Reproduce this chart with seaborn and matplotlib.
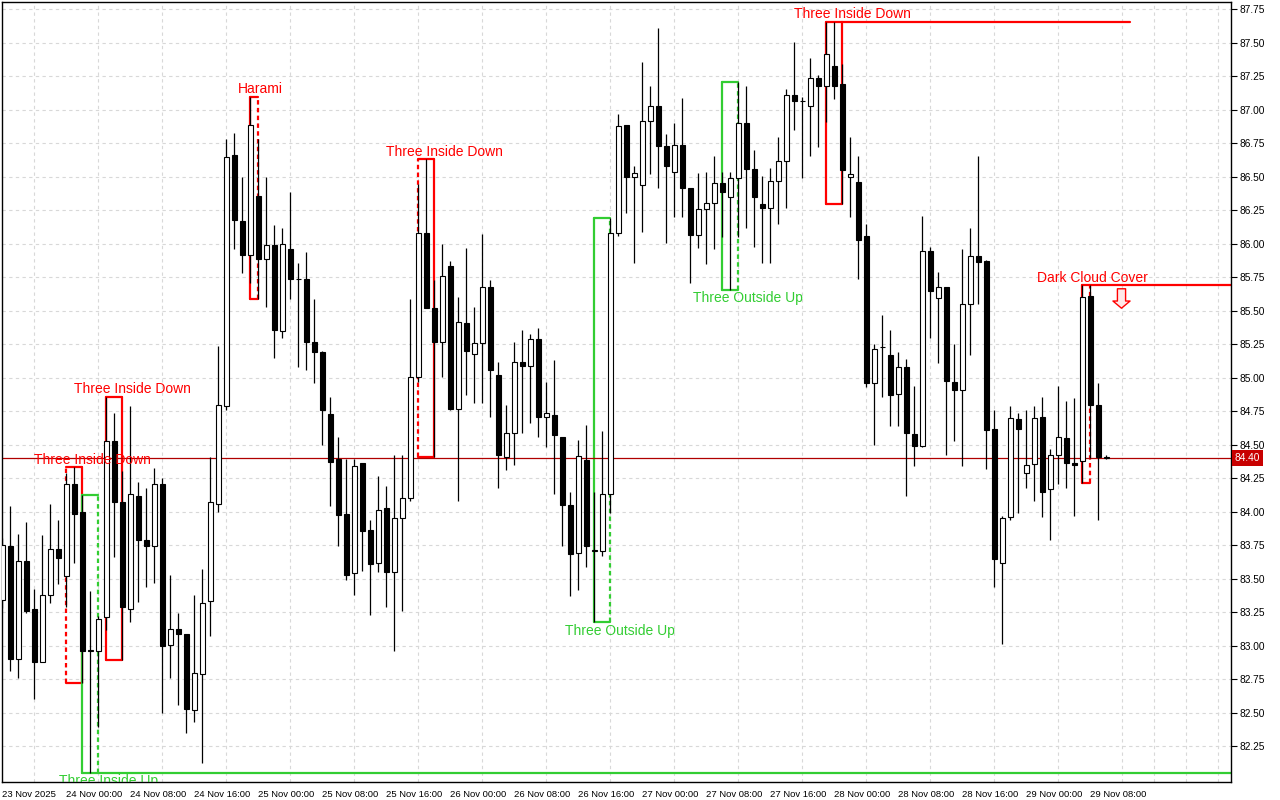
import numpy as np
import pandas as pd
import seaborn as sns
import matplotlib.pyplot as plt
import matplotlib.transforms as mtransforms
from matplotlib.path import Path

# Hourly bars, first bar = 23 Nov 16:00
opens = [83.34, 83.74, 82.90, 83.63, 83.275, 82.88, 83.38, 83.72, 83.52, 84.205,
         84.00, 82.96, 82.96, 83.21, 84.53, 84.07, 83.27, 84.12, 83.79, 83.74,
         84.21, 83.005, 83.125, 83.09, 82.52, 82.79, 83.33, 84.055, 84.79, 86.66,
         86.17, 85.92, 86.36, 85.885, 85.99, 85.35, 85.96, 85.735, 85.735, 85.27,
         85.195, 84.73, 84.39, 83.98, 83.54, 84.36, 83.86, 83.62, 84.025, 83.55,
         83.95, 84.10, 85.005, 86.08, 85.52, 85.265, 85.835, 84.77, 85.41, 85.18,
         85.26, 85.675, 85.02, 84.41, 84.59, 85.12, 85.085, 85.29, 84.71, 84.72,
         84.56, 84.05, 83.69, 84.385, 83.71, 83.71, 84.13, 86.08, 86.885, 86.50,
         86.44, 86.92, 87.03, 86.73, 86.535, 86.735, 86.415, 86.066, 86.26, 86.305,
         86.455, 86.35, 86.49, 86.90, 86.56, 86.30, 86.27, 86.47, 86.615, 87.115,
         87.066, 87.026, 87.24, 87.18, 87.33, 87.19, 86.50, 86.46, 86.056, 84.96,
         85.23, 85.17, 84.88, 85.08, 84.58, 84.49, 85.95, 85.595, 85.68, 84.97,
         84.91, 85.55, 85.91, 85.87, 84.617, 83.62, 83.96, 84.69, 84.288, 84.355,
         84.71, 84.17, 84.42, 84.55, 84.36, 84.38, 85.61, 84.80, 84.40]
highs = [83.80, 84.04, 83.83, 83.92, 83.42, 83.825, 84.06, 83.94, 84.29, 84.33,
         84.125, 83.41, 83.22, 84.86, 84.74, 84.30, 84.79, 84.22, 84.18, 84.325,
         84.25, 83.525, 83.24, 83.09, 83.375, 83.57, 84.41, 85.24, 86.78, 86.83,
         86.50, 87.10, 86.78, 86.50, 86.14, 86.12, 86.39, 85.855, 85.94, 85.585,
         85.20, 84.86, 84.56, 84.39, 84.395, 84.36, 83.94, 84.27, 84.19, 84.425,
         84.42, 85.59, 86.45, 86.63, 85.73, 86.00, 85.87, 85.60, 85.97, 85.53,
         86.07, 85.73, 85.12, 84.80, 85.27, 85.36, 85.33, 85.375, 84.97, 85.13,
         84.56, 84.15, 84.535, 84.65, 84.15, 84.60, 86.19, 86.97, 86.885, 86.585,
         87.36, 87.18, 87.615, 86.82, 86.90, 87.09, 86.415, 86.53, 86.54, 86.655,
         86.54, 86.535, 87.21, 87.18, 86.70, 86.51, 86.57, 86.80, 87.16, 87.51,
         87.10, 87.39, 87.26, 87.66, 87.66, 87.345, 86.80, 86.655, 86.146, 85.25,
         85.465, 85.36, 85.19, 85.14, 84.94, 86.205, 85.976, 85.79, 85.68, 85.25,
         85.96, 86.12, 86.655, 85.88, 84.76, 83.97, 84.787, 84.74, 84.76, 84.79,
         84.855, 84.47, 84.936, 84.824, 84.85, 85.69, 85.69, 84.96, 84.42]
lows = [83.28, 82.81, 82.76, 83.24, 82.60, 82.88, 83.32, 83.46, 83.29, 83.62,
        82.72, 82.05, 82.39, 83.12, 83.66, 82.89, 83.175, 83.325, 83.44, 83.47,
        82.495, 82.755, 82.56, 82.35, 82.43, 82.12, 83.075, 84.00, 84.76, 85.96,
        85.785, 85.71, 85.59, 85.53, 85.145, 85.295, 85.59, 85.08, 85.06, 84.96,
        84.50, 84.04, 83.74, 83.49, 83.375, 83.56, 83.23, 83.55, 83.29, 82.96,
        83.26, 84.08, 84.97, 85.52, 84.41, 85.005, 84.76, 84.08, 84.87, 84.81,
        84.81, 84.705, 84.18, 84.31, 84.35, 84.585, 84.66, 84.56, 84.485, 84.13,
        83.74, 83.37, 83.417, 83.59, 83.175, 83.67, 83.99, 86.06, 86.23, 85.86,
        86.09, 86.52, 86.42, 86.01, 86.20, 86.20, 85.71, 85.97, 85.85, 85.96,
        86.05, 85.655, 86.05, 86.12, 85.98, 85.86, 85.86, 86.15, 86.27, 86.85,
        86.49, 86.655, 86.72, 86.91, 87.08, 86.30, 86.20, 85.74, 84.93, 84.50,
        84.855, 84.64, 84.64, 84.12, 84.34, 84.485, 85.30, 85.11, 84.425, 84.53,
        84.34, 85.17, 85.55, 84.32, 83.44, 83.01, 83.94, 83.99, 84.18, 84.08,
        83.96, 83.79, 84.21, 84.18, 83.97, 84.213, 84.40, 83.94, 84.39]
closes = [83.75, 82.90, 83.63, 83.26, 82.88, 83.38, 83.72, 83.655, 84.205, 83.98,
          82.96, 82.965, 83.20, 84.53, 84.07, 83.29, 84.13, 83.79, 83.745, 84.21,
          82.995, 83.125, 83.09, 82.525, 82.795, 83.32, 84.07, 84.80, 86.65, 86.18,
          85.92, 86.89, 85.89, 85.99, 85.355, 86.00, 85.735, 85.735, 85.27, 85.195,
          84.76, 84.37, 83.975, 83.53, 84.34, 83.855, 83.61, 84.01, 83.55, 83.95,
          84.10, 85.005, 86.084, 85.52, 85.266, 85.76, 84.77, 85.416, 85.20, 85.26,
          85.675, 85.06, 84.42, 84.59, 85.12, 85.085, 85.29, 84.71, 84.74, 84.57,
          84.05, 83.686, 84.415, 83.74, 83.715, 84.13, 86.08, 86.88, 86.50, 86.53,
          86.92, 87.03, 86.73, 86.58, 86.74, 86.415, 86.066, 86.26, 86.305, 86.455,
          86.39, 86.49, 86.90, 86.56, 86.35, 86.27, 86.47, 86.62, 87.115, 87.07,
          87.068, 87.24, 87.18, 87.42, 87.18, 86.55, 86.52, 86.03, 84.96, 85.216,
          85.232, 84.874, 85.08, 84.585, 84.49, 85.95, 85.65, 85.68, 84.974, 84.91,
          85.55, 85.91, 85.865, 84.61, 83.645, 83.956, 84.70, 84.617, 84.35, 84.70,
          84.15, 84.425, 84.555, 84.36, 84.35, 85.60, 84.80, 84.405, 84.41]

time_labels = ["23 Nov 2025", "24 Nov 00:00", "24 Nov 08:00", "24 Nov 16:00",
               "25 Nov 00:00", "25 Nov 08:00", "25 Nov 16:00", "26 Nov 00:00",
               "26 Nov 08:00", "26 Nov 16:00", "27 Nov 00:00", "27 Nov 08:00",
               "27 Nov 16:00", "28 Nov 00:00", "28 Nov 08:00", "28 Nov 16:00",
               "29 Nov 00:00", "29 Nov 08:00"]
price_ticks = [82.25, 82.50, 82.75, 83.00, 83.25, 83.50, 83.75, 84.00, 84.25, 84.50,
               84.75, 85.00, 85.25, 85.50, 85.75, 86.00, 86.25, 86.50, 86.75, 87.00,
               87.25, 87.50, 87.75]

# candlestick patterns: name, first bar, number of bars, bullish?
pattern_names = ["Three Inside Down", "Three Inside Up", "Three Inside Down", "Harami",
                 "Three Inside Down", "Three Outside Up", "Three Outside Up",
                 "Three Inside Down", "Dark Cloud Cover"]
pattern_start = [8, 10, 13, 31, 52, 74, 90, 103, 135]
pattern_bars = [3, 3, 3, 2, 3, 3, 3, 3, 2]
pattern_bull = [False, True, False, False, False, True, True, False, False]

last_price = 84.40

df = pd.DataFrame({"open": opens, "high": highs, "low": lows, "close": closes})
df["x"] = np.arange(len(df))

RED = "#ff0000"
GREEN = "#32cd32"

sns.set_style("white")
plt.rcParams["font.family"] = ["Liberation Sans", "DejaVu Sans"]

fig = plt.figure(figsize=(12.8, 8), dpi=100)
ax = fig.add_axes([2 / 1280, 18.5 / 800, 1229 / 1280, 779.5 / 800])
ax.set_xlim(-0.04, 153.6)
ax.set_ylim(81.985, 87.806)

# grid: horizontal at price ticks, vertical every 4 bars
ax.set_yticks(price_ticks)
ax.set_yticklabels([f"{p:.2f}" for p in price_ticks])
ax.set_xticks(np.arange(0, 8 * len(time_labels), 8))
ax.set_xticklabels(time_labels, ha="left")
ax.set_xticks(np.arange(0, 154, 4), minor=True)
grid_kw = dict(color="#d8d8d8", linestyle=(0, (3, 3)), linewidth=0.8)
ax.grid(which="minor", axis="x", **grid_kw)
ax.grid(which="major", axis="y", **grid_kw)
ax.grid(which="major", axis="x", visible=False)
ax.set_axisbelow(True)

ax.yaxis.tick_right()
ax.tick_params(axis="y", which="major", direction="out", length=4, width=0.8,
               pad=2, labelsize=7.3, colors="black")
ax.tick_params(axis="x", which="major", direction="out", length=5, width=0.8,
               pad=1, labelsize=6.8, colors="black")
ax.tick_params(axis="x", which="minor", length=0)
for sp in ax.spines.values():
    sp.set_visible(True)
    sp.set_color("black")
    sp.set_linewidth(1)

# pattern boxes (under the candles)
dash_side = {0: "left", 1: "right", 3: "right", 4: "left", 5: "right", 6: "right", 8: "right"}
extend = {1: ("bottom", 153.6), 7: ("top", 141), 8: ("top", 153.6)}
for k, name in enumerate(pattern_names):
    s, n = pattern_start[k], pattern_bars[k]
    seg = df.iloc[s:s + n]
    top, bot = seg["high"].max(), seg["low"].min()
    x0, x1 = s, s + n - 1
    col = GREEN if pattern_bull[k] else RED
    lw = 1.6
    ax.plot([x0, x1], [top, top], color=col, lw=lw, zorder=2)
    ax.plot([x0, x1], [bot, bot], color=col, lw=lw, zorder=2)
    ax.plot([x0, x0], [bot, top], color=col, lw=lw, zorder=2,
            linestyle=(0, (2, 1.5)) if dash_side.get(k) == "left" else "-")
    ax.plot([x1, x1], [bot, top], color=col, lw=lw, zorder=2,
            linestyle=(0, (2, 1.5)) if dash_side.get(k) == "right" else "-")
    if k in extend:
        side, xend = extend[k]
        lvl = top if side == "top" else bot
        sns.lineplot(x=[x1, xend], y=[lvl, lvl], color=col, lw=lw, ax=ax, zorder=2)

    cx = (x0 + x1) / 2 + (2.25 if n == 3 else 0.75)
    if pattern_bull[k]:
        ax.annotate(name, (cx, bot), xytext=(0, -1), textcoords="offset points",
                    ha="center", va="top", color=GREEN, fontsize=10, clip_on=True, zorder=5)
    else:
        ax.annotate(name, (cx, top), xytext=(0, 0.5), textcoords="offset points",
                    ha="center", va="bottom", color=RED, fontsize=10, clip_on=True, zorder=5)
    if name == "Dark Cloud Cover":
        arrow = Path([(-0.42, 1), (0.42, 1), (0.42, -0.26), (0.88, -0.26), (0, -1),
                      (-0.88, -0.26), (-0.42, -0.26), (-0.42, 1)], closed=True)
        tr = mtransforms.offset_copy(ax.transData, fig=fig, x=0, y=-13, units="dots")
        ax.plot([x1 + 3.9], [top], marker=arrow, markersize=14, mfc="#ffe8e8",
                mec=RED, mew=1, linestyle="none", transform=tr, zorder=5)

# current price line
ax.axhline(last_price, color="#b00000", lw=0.9, zorder=2.5)

# candles
bull = df["close"] >= df["open"]
ax.vlines(df["x"], df["low"], df["high"], color="black", lw=0.9, zorder=3)
ax.bar(df["x"], (df["close"] - df["open"]).abs(), bottom=np.minimum(df["open"], df["close"]),
       width=0.62, color=np.where(bull, "white", "black"), edgecolor="black",
       linewidth=0.8, zorder=4)

# price tag on the axis
tag_tr = mtransforms.blended_transform_factory(ax.transAxes, ax.transData)
ax.text(1.003, last_price, f"{last_price:.2f}", transform=tag_tr, ha="left", va="center",
        color="white", fontsize=7.3, clip_on=False, zorder=6,
        bbox=dict(boxstyle="square,pad=0.3", fc="#c80000", ec="none"))

ax.set_xlabel("")
ax.set_ylabel("")

fig.savefig("out.png", dpi=100)
